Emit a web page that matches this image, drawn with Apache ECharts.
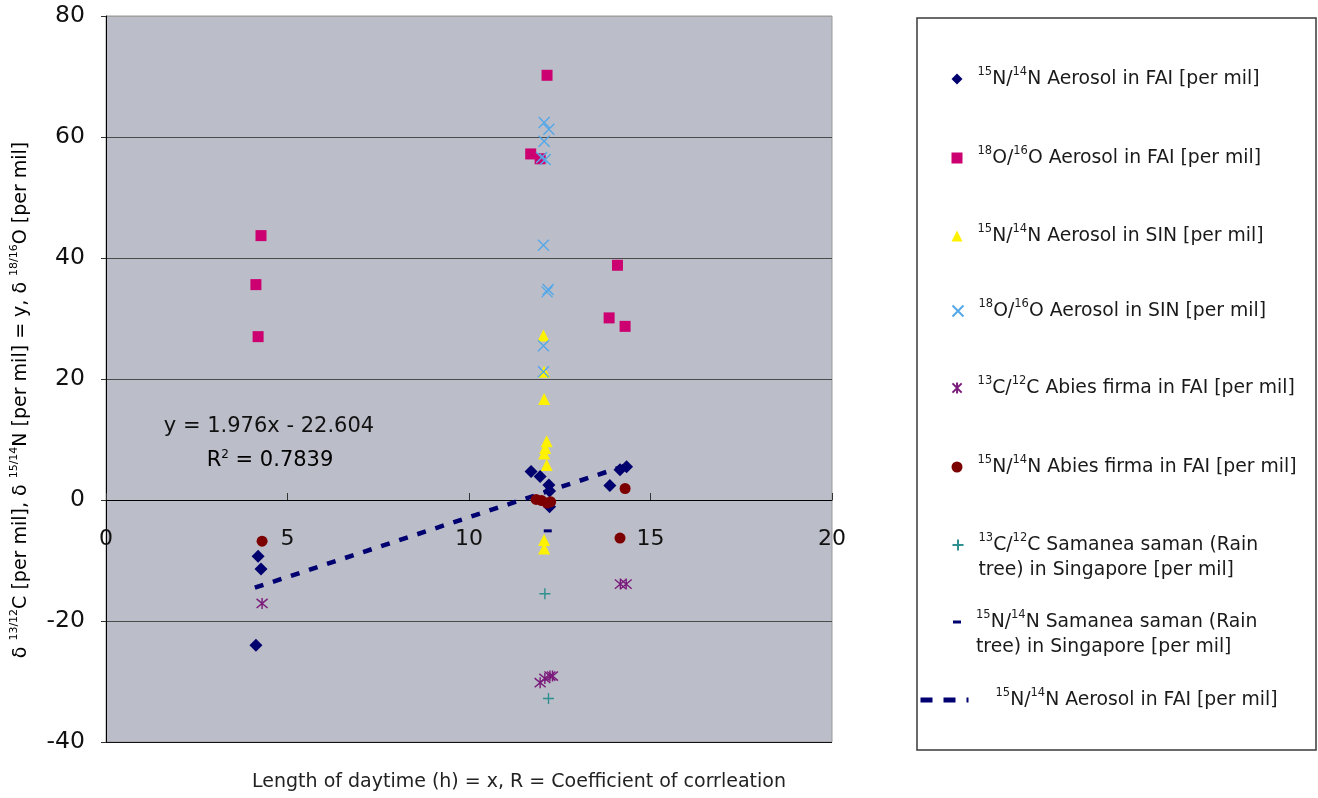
<!DOCTYPE html>
<html><head><meta charset="utf-8">
<script src="https://cdn.jsdelivr.net/npm/echarts@6/dist/echarts.min.js"></script>
<style>html,body{margin:0;padding:0;background:#fff}#c{width:1318px;height:798px}</style>
</head><body><div id="c"></div>
<script>
// ---- data (x = length of daytime [h], y = delta [per mil]) ----
const aerosolN_FAI = [[4.19,-9.3],[4.27,-11.4],[4.13,-24.0],[11.71,4.7],[11.96,3.9],[12.2,2.5],[12.22,1.5],[12.22,-1.1],[13.88,2.4],[14.16,5.0],[14.34,5.5]];
const aerosolO_FAI = [[4.27,43.7],[4.13,35.6],[4.19,27.0],[12.15,70.2],[11.70,57.2],[11.96,56.4],[14.09,38.8],[13.86,30.1],[14.30,28.7]];
const aerosolN_SIN = [[12.05,27.2],[12.07,21.2],[12.07,16.7],[12.14,9.7],[12.1,8.6],[12.07,7.7],[12.14,5.8],[12.07,-6.6],[12.07,-8.0]];
const aerosolO_SIN = [[12.07,62.4],[12.2,61.3],[12.07,59.3],[12.0,56.6],[12.1,56.3],[12.05,42.1],[12.18,34.8],[12.15,34.4],[12.05,25.5],[12.05,21.2]];
const abiesC_FAI = [[4.3,-17.1],[11.96,-30.2],[12.09,-29.5],[12.23,-29.1],[12.3,-29.1],[14.17,-13.9],[14.33,-13.9]];
const abiesN_FAI = [[4.3,-6.8],[11.85,0.1],[12.0,-0.1],[12.15,-0.5],[12.25,-0.3],[14.3,1.9],[14.16,-6.3]];
const samaneaC_SIN = [[12.09,-15.5],[12.19,-32.8]];
const samaneaN_SIN = [[12.17,-5.1]];
const trendAerosolN_FAI = [[4.1,-14.5],[14.4,5.85]];
const xTicks = {min:0, max:20, step:5};
const yTicks = {min:-40, max:80, step:20};
const equationText = 'y = 1.976x - 22.604';
const r2Value = '0.7839';
const xTitle = 'Length of daytime (h) = x, R = Coefficient of corrleation';

// ---- series names ----
const names = [
  '15N/14N Aerosol in FAI [per mil]',
  '18O/16O Aerosol in FAI [per mil]',
  '15N/14N Aerosol in SIN [per mil]',
  '18O/16O Aerosol in SIN [per mil]',
  '13C/12C Abies firma in FAI [per mil]',
  '15N/14N Abies firma in FAI [per mil]',
  '13C/12C Samanea saman (Rain tree) in Singapore [per mil]',
  '15N/14N Samanea saman (Rain tree) in Singapore [per mil]',
  '15N/14N Aerosol in FAI [per mil] (trend)'
];
const FONT = '"DejaVu Sans", Verdana, sans-serif';

function iso(a, el1, b, el2) { return '{s|' + a + '}{t|' + el1 + '/}{s|' + b + '}{t|' + el2; }
const legendLabels = {};
legendLabels[names[0]] = iso('15','N','14','N Aerosol in FAI [per mil]}');
legendLabels[names[1]] = iso('18','O','16','O Aerosol in FAI [per mil]}');
legendLabels[names[2]] = iso('15','N','14','N Aerosol in SIN [per mil]}');
legendLabels[names[3]] = iso('18','O','16','O Aerosol in SIN [per mil]}');
legendLabels[names[4]] = iso('13','C','12','C Abies firma in FAI [per mil]}');
legendLabels[names[5]] = iso('15','N','14','N Abies firma in FAI [per mil]}');
legendLabels[names[6]] = iso('13','C','12','C Samanea saman (Rain}\n{t|tree) in Singapore [per mil]}');
legendLabels[names[7]] = iso('15','N','14','N Samanea saman (Rain}\n{t|tree) in Singapore [per mil]}');
legendLabels[names[8]] = iso('15','N','14','N Aerosol in FAI [per mil]}');

const legendRich = {
  t: {fontSize: 18.8, fontFamily: FONT, color: '#1a1a1a', lineHeight: 25},
  s: {fontSize: 11.5, fontFamily: FONT, color: '#1a1a1a', lineHeight: 14, verticalAlign: 'top'}
};

const PX = 'path://';
const symCross = PX + 'M0,0L10,10M10,0L0,10';
const symStar = PX + 'M0,0L10,10M10,0L0,10M5,-1L5,11';
const symPlus = PX + 'M5,0L5,10M0,5L10,5';

function scatter(name, data, symbol, size, color, stroke) {
  return {type: 'scatter', name: name, data: data, symbol: symbol, symbolSize: size, z: 3,
    itemStyle: stroke ? {color: 'rgba(0,0,0,0)', borderColor: color, borderWidth: 1.4, opacity: 1} : {color: color, opacity: 1},
    emphasis: {disabled: true}};
}

const series = [
  scatter(names[0], aerosolN_FAI, 'diamond', 13, '#00006e', false),
  scatter(names[1], aerosolO_FAI, 'rect', 11, '#cc0070', false),
  scatter(names[2], aerosolN_SIN, 'triangle', 12, '#fff200', false),
  scatter(names[3], aerosolO_SIN, symCross, 11, '#55a8e8', true),
  scatter(names[4], abiesC_FAI, symStar, 11, '#7a1a7a', true),
  scatter(names[5], abiesN_FAI, 'circle', 11, '#7d0000', false),
  scatter(names[6], samaneaC_SIN, symPlus, 11, '#2f9090', true),
  scatter(names[7], samaneaN_SIN, 'rect', [8, 3], '#000070', false),
  {type: 'line', name: names[8], data: trendAerosolN_FAI, symbol: 'none', z: 2,
   lineStyle: {color: '#000070', width: 4.5, type: [9, 10]}, itemStyle: {color: '#000070'},
   emphasis: {disabled: true}}
];

// legend item positions (icon centre y)
const legendPos = [
  {c: 79, two: false}, {c: 158, two: false}, {c: 236, two: false}, {c: 311, two: false},
  {c: 388, two: false}, {c: 467, two: false}, {c: 545, two: true}, {c: 622, two: true}, {c: 700, two: false}
];
const legends = names.map(function (n, i) {
  const p = legendPos[i];
  const isTrend = i === 8;
  const isDash = i === 7;
  const iw = isTrend ? 48 : (isDash ? 8 : 11);
  const ih = isTrend ? 14 : (isDash ? 3 : 11);
  const H = p.two ? 75 : 25;
  const lg = {
    data: [n], orient: 'vertical', padding: 0, selectedMode: false,
    left: isTrend ? 918 : 957 - iw / 2,
    top: p.c - H / 2,
    itemWidth: iw, itemHeight: ih,
    formatter: function (name) { return legendLabels[name]; },
    textStyle: {padding: p.two ? [25, 0, 0, 10] : [0, 0, 0, isTrend ? 22 : 10], rich: legendRich, lineHeight: 25}
  };
  if (isTrend) {
    lg.itemStyle = {opacity: 0};
    lg.lineStyle = {width: 5, type: [12, 11], color: '#000070'};
  }
  return lg;
});

const option = {
  animation: false,
  backgroundColor: '#ffffff',
  textStyle: {fontFamily: FONT},
  grid: {left: 106, right: 486, top: 16, bottom: 56, outerBoundsMode: 'none', containLabel: false,
         show: true, backgroundColor: '#bbbdc8', borderColor: '#9a9a9a', borderWidth: 1},
  xAxis: {
    type: 'value', min: xTicks.min, max: xTicks.max, interval: xTicks.step,
    offset: -242,
    axisLine: {onZero: false, lineStyle: {color: '#000', width: 1}},
    axisTick: {inside: true, length: 7, lineStyle: {color: '#333'}},
    axisLabel: {margin: 28, fontSize: 22, color: '#111', fontFamily: FONT},
    splitLine: {show: false}
  },
  yAxis: {
    type: 'value', min: yTicks.min, max: yTicks.max, interval: yTicks.step,
    axisLine: {show: true, onZero: false, lineStyle: {color: '#000', width: 1}},
    axisTick: {show: true, length: 5, lineStyle: {color: '#333'}},
    axisLabel: {margin: 21, fontSize: 23.5, color: '#111', fontFamily: FONT},
    splitLine: {show: true, lineStyle: {color: ['#111', '#4a4a4a', '#4a4a4a', '#4a4a4a', '#4a4a4a', '#4a4a4a', '#a0a0a0'], width: 1}}
  },
  legend: legends,
  graphic: [
    {type: 'rect', z: -10, shape: {x: 917, y: 18, width: 399, height: 732}, style: {fill: '#fff', stroke: '#3a3a3a', lineWidth: 1.5}},
    {type: 'text', z: 10, x: 269, y: 427, style: {text: equationText, fontSize: 21, fontFamily: FONT, fill: '#111', align: 'center', verticalAlign: 'middle'}},
    {type: 'text', z: 10, x: 270, y: 461, style: {text: '{t|R}{s|2}{t| = ' + r2Value + '}', align: 'center', verticalAlign: 'middle',
      rich: {t: {fontSize: 21, fontFamily: FONT, color: '#111', lineHeight: 24}, s: {fontSize: 12, fontFamily: FONT, color: '#111', lineHeight: 14, verticalAlign: 'top'}}}},
    {type: 'text', z: 10, x: 519, y: 782, style: {text: xTitle, fontSize: 19, fontFamily: FONT, fill: '#222', align: 'center', verticalAlign: 'middle'}},
    {type: 'text', z: 10, x: 21, y: 400, rotation: Math.PI / 2, style: {
      text: '{t|δ }{s|13/12}{t|C [per mil], δ }{s|15/14}{t|N [per mil] = y, δ }{s|18/16}{t|O [per mil]}',
      align: 'center', verticalAlign: 'middle',
      rich: {t: {fontSize: 19, color: '#222', fontFamily: FONT, lineHeight: 24},
             s: {fontSize: 11, color: '#222', fontFamily: FONT, lineHeight: 13, verticalAlign: 'top'}}}}
  ],
  series: series
};
const chart = echarts.init(document.getElementById('c'), null, {renderer: 'canvas'});
chart.setOption(option);
</script>
</body></html>
